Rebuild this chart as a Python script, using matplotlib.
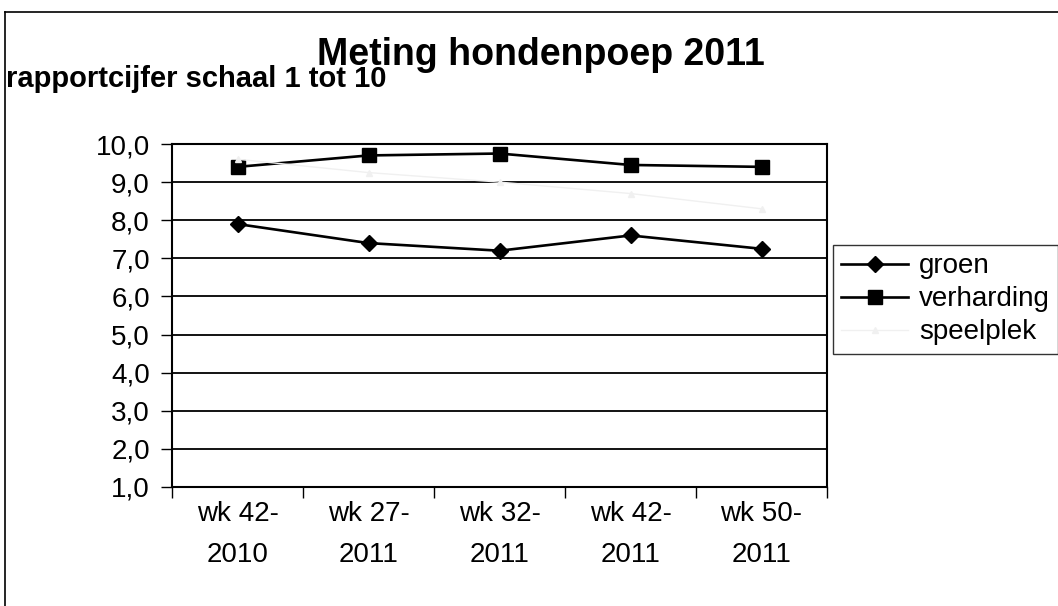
import matplotlib
matplotlib.use("Agg")
import matplotlib.pyplot as plt
from matplotlib.lines import Line2D

plt.rcParams['font.family'] = ['Liberation Sans', 'DejaVu Sans']

categories = ["wk 42-\n2010", "wk 27-\n2011", "wk 32-\n2011", "wk 42-\n2011", "wk 50-\n2011"]
groen = [7.9, 7.4, 7.2, 7.6, 7.25]
verharding = [9.4, 9.7, 9.75, 9.45, 9.4]
speelplek = [9.6, 9.25, 9.0, 8.7, 8.3]
yticks = [1, 2, 3, 4, 5, 6, 7, 8, 9, 10]
ytick_labels = ["1,0", "2,0", "3,0", "4,0", "5,0", "6,0", "7,0", "8,0", "9,0", "10,0"]

W, H = 1058, 606
fig = plt.figure(figsize=(W / 100, H / 100), dpi=100)
ax = fig.add_axes([172 / W, 1 - 487 / H, 655 / W, 343 / H])

x = list(range(len(categories)))
ax.plot(x, groen, color='black', lw=1.9, marker='D', markersize=8.5, label='groen')
ax.plot(x, verharding, color='black', lw=1.9, marker='s', markersize=9.5, label='verharding')
ax.plot(x, speelplek, color='#f0f0f0', lw=1.0, marker='^', markersize=4, label='speelplek')

ax.set_xlim(-0.5, len(categories) - 0.5)
ax.set_ylim(1, 10)
ax.set_yticks(yticks)
ax.set_yticklabels(ytick_labels, fontsize=20)
ax.yaxis.grid(True, color='black', lw=1.3)
ax.set_axisbelow(True)

ax.set_xticks([i - 0.5 for i in range(len(categories) + 1)])
ax.set_xticklabels([])
ax.set_xticks(x, minor=True)
ax.set_xticklabels(categories, minor=True, fontsize=20, linespacing=1.75)
ax.tick_params(axis='x', which='minor', length=0, pad=10)
ax.tick_params(axis='x', which='major', direction='out', length=8, width=1)
ax.tick_params(axis='y', direction='out', length=8, width=1, pad=8)
for s in ax.spines.values():
    s.set_linewidth(1.5)
    s.set_color('black')

fig.text(541 / W, 1 - 55 / H, "Meting hondenpoep 2011", ha='center', va='center',
         fontsize=27, fontweight='bold')
fig.text(6 / W, 1 - 79 / H, "rapportcijfer schaal 1 tot 10", ha='left', va='center',
         fontsize=21, fontweight='bold')

leg = fig.legend(loc='upper left', bbox_to_anchor=(833 / W, 1 - 245 / H), fontsize=20,
                 frameon=True, fancybox=False, edgecolor='black', handlelength=2.4,
                 labelspacing=0.25, borderpad=0.3, handletextpad=0.4, borderaxespad=0)
leg.get_frame().set_linewidth(1.0)

fig.add_artist(Line2D([5 / W, 1.0], [1 - 12 / H, 1 - 12 / H], color='black', lw=1.2,
                      transform=fig.transFigure))
fig.add_artist(Line2D([5 / W, 5 / W], [0, 1 - 12 / H], color='black', lw=1.2,
                      transform=fig.transFigure))

fig.savefig("out.png", dpi=100)
